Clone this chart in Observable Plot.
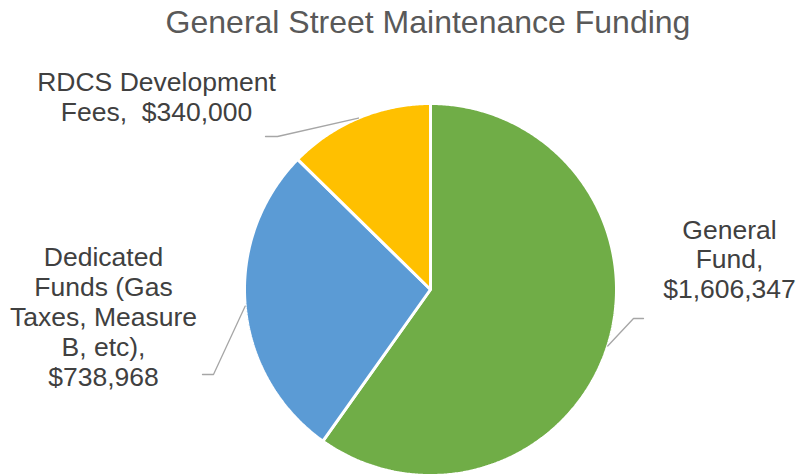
<!DOCTYPE html>
<html>
<head>
<meta charset="utf-8">
<script src="https://cdn.jsdelivr.net/npm/d3@7"></script>
<script src="https://cdn.jsdelivr.net/npm/@observablehq/plot@0.6"></script>
<style>
  html, body { margin: 0; padding: 0; background: #fff; }
  body { width: 803px; height: 474px; overflow: hidden; font-family: "Liberation Sans", Arial, sans-serif; }
  #title { width: 803px; height: 44px; line-height: 44px; box-sizing: border-box; padding-left: 53px;
           text-align: center; font-size: 32px; color: #595959; white-space: nowrap; }
  #chart svg { display: block; }
</style>
</head>
<body>
<div id="title">General Street Maintenance Funding</div>
<div id="chart"></div>
<script>
// ---- data ----
const categories = ["General Fund", "Dedicated Funds (Gas Taxes, Measure B, etc)", "RDCS Development Fees"];
const values = [1606347, 738968, 340000];
const labelLines = [
  ["General", "Fund,", "$1,606,347"],
  ["Dedicated", "Funds (Gas", "Taxes, Measure", "B, etc),", "$738,968"],
  ["RDCS Development", "Fees,\u00a0 $340,000"]
];
const colors = ["#70AD47", "#5B9BD5", "#FFC000"];

// ---- layout (pixels) ----
const W = 803, H = 430;
const cx = 430, cy = 245, R = 186;
// leader elbow / end and label anchor per slice
const layout = [
  {elbow: [633, 274], end: [643, 274], label: [729, 172.7]},
  {elbow: [213, 330], end: [202, 330], label: [103, 200.4]},
  {elbow: [277, 92],  end: [265, 92],  label: [156, 25.4]}
];

const arcs = d3.pie().sort(null).value(d => d)(values);
const polar = (a, r) => [cx + r * Math.sin(a), cy - r * Math.cos(a)];

const slicePts = [];
arcs.forEach((a, i) => {
  slicePts.push({k: categories[i], x: cx, y: cy});
  const n = Math.max(2, Math.ceil((a.endAngle - a.startAngle) / (Math.PI / 360)));
  for (let j = 0; j <= n; j++) {
    const [x, y] = polar(a.startAngle + (a.endAngle - a.startAngle) * j / n, R);
    slicePts.push({k: categories[i], x, y});
  }
});

const leaderPts = [];
arcs.forEach((a, i) => {
  const mid = (a.startAngle + a.endAngle) / 2;
  const [x0, y0] = polar(mid, R);
  leaderPts.push({k: i, x: x0, y: y0});
  leaderPts.push({k: i, x: layout[i].elbow[0], y: layout[i].elbow[1]});
  leaderPts.push({k: i, x: layout[i].end[0], y: layout[i].end[1]});
});

const labels = categories.map((c, i) => ({
  text: labelLines[i].join("\n"), x: layout[i].label[0], y: layout[i].label[1]
}));

const chart = Plot.plot({
  width: W, height: H,
  margin: 0,
  x: {domain: [0, W], range: [0, W], axis: null},
  y: {domain: [0, H], range: [0, H], axis: null},
  color: {domain: categories, range: colors},
  style: {background: "#fff", fontFamily: "'Liberation Sans', Arial, sans-serif"},
  marks: [
    Plot.line(slicePts, {x: "x", y: "y", z: "k", fill: "k", stroke: "white", strokeWidth: 3,
      strokeLinejoin: "miter", curve: "linear-closed"}),
    Plot.line(leaderPts, {x: "x", y: "y", z: "k", stroke: "#a6a6a6", strokeWidth: 1.3}),
    Plot.text(labels, {x: "x", y: "y", text: "text", lineAnchor: "top", textAnchor: "middle",
      fontSize: 26.5, lineHeight: 1.132, fill: "#404040"})
  ]
});
document.getElementById("chart").appendChild(chart);
</script>
</body>
</html>
